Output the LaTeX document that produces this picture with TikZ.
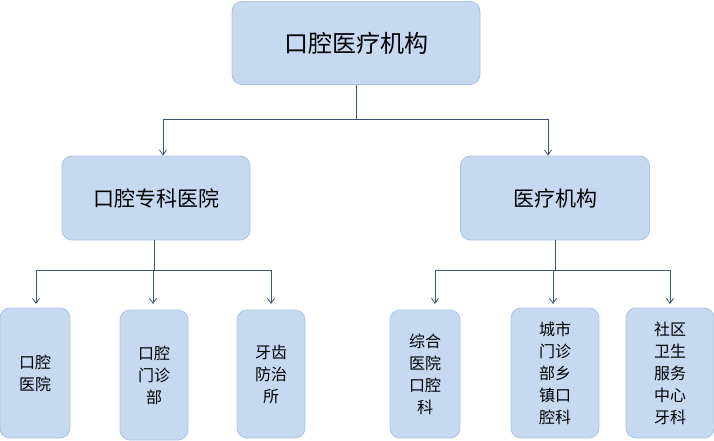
\documentclass[tikz,border=0pt]{standalone}
\usepackage{fontspec}
\setmainfont{Noto Sans CJK SC}
\usetikzlibrary{arrows.meta}
\definecolor{boxfill}{HTML}{C6D9F1}
\definecolor{boxline}{HTML}{A9C3E6}
\definecolor{linkcol}{HTML}{3B5574}
\tikzset{
  box/.style={draw=boxline,fill=boxfill,rounded corners=10pt,line width=0.8pt,align=center,inner sep=0pt},
  leaf/.style={box,font=\fontsize{16}{22}\selectfont},
  link/.style={draw=linkcol,line width=0.8pt},
  arr/.style={link,-{Straight Barb[length=5pt,width=7pt]}}
}
\begin{document}
\begin{tikzpicture}[x=1pt,y=-1pt]
  \useasboundingbox (0,0) rectangle (714,441);
  % root
  \node[box,minimum width=248pt,minimum height=83pt,font=\fontsize{24}{28}\selectfont] (root) at (356,43) {口腔医疗机构};
  % level 1
  \node[box,minimum width=188pt,minimum height=84pt,font=\fontsize{21}{26}\selectfont] (spec) at (156,198) {口腔专科医院};
  \node[box,minimum width=189pt,minimum height=84pt,font=\fontsize{21}{26}\selectfont] (med) at (555,198) {医疗机构};
  % level 2
  \node[leaf,minimum width=70pt,minimum height=130pt] (l1) at (35,373) {口腔\\医院};
  \node[leaf,minimum width=68pt,minimum height=130pt] (l2) at (154,375) {口腔\\门诊\\部};
  \node[leaf,minimum width=68pt,minimum height=128pt] (l3) at (271,374) {牙齿\\防治\\所};
  \node[leaf,minimum width=70pt,minimum height=128pt] (r1) at (425,374) {综合\\医院\\口腔\\科};
  \node[leaf,minimum width=88pt,minimum height=130pt] (r2) at (555,373) {城市\\门诊\\部乡\\镇口\\腔科};
  \node[leaf,minimum width=88pt,minimum height=130pt] (r3) at (670,373) {社区\\卫生\\服务\\中心\\牙科};
  % junctions
  \coordinate (j0) at (356,119);
  \coordinate (j0l) at (163,119);
  \coordinate (j0r) at (548,119);
  \coordinate (j1) at (154,270);
  \coordinate (j1l) at (36,270);
  \coordinate (j1m) at (153,270);
  \coordinate (j1r) at (271,270);
  \coordinate (j2) at (555,270);
  \coordinate (j2l) at (435,270);
  \coordinate (j2m) at (553,270);
  \coordinate (j2r) at (670,270);
  % links
  \draw[link] (root.south) -- (j0);
  \draw[link] (j0l) -- (j0r);
  \draw[arr] (j0l) -- (j0l |- spec.north);
  \draw[arr] (j0r) -- (j0r |- med.north);
  \draw[link] (spec.south -| j1) -- (j1);
  \draw[link] (j1l) -- (j1r);
  \draw[arr] (j1l) -- ++(0,34);
  \draw[arr] (j1m) -- ++(0,34);
  \draw[arr] (j1r) -- ++(0,34);
  \draw[link] (med.south) -- (j2);
  \draw[link] (j2l) -- (j2r);
  \draw[arr] (j2l) -- ++(0,34);
  \draw[arr] (j2m) -- ++(0,34);
  \draw[arr] (j2r) -- ++(0,34);
\end{tikzpicture}
\end{document}
